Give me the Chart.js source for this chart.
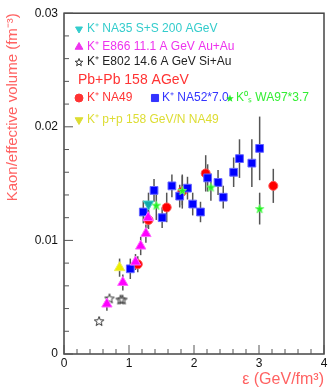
<!DOCTYPE html>
<html>
<head>
<meta charset="utf-8">
<script src="https://cdn.jsdelivr.net/npm/chart.js@4.4.1/dist/chart.umd.min.js"></script>
<style>
html, body { margin: 0; padding: 0; background: #fff; }
canvas { display: block; }
</style>
</head>
<body>
<canvas id="kaonChart" width="331" height="388"></canvas>
<script>
// energy density (GeV/fm^3) vs kaon / effective volume (fm^-3)
const na52E = [1.02, 1.22, 1.385, 1.51, 1.66, 1.78, 1.90, 1.98, 2.10, 2.21, 2.37, 2.45, 2.61, 2.70, 2.89, 3.01];
const na52K = [0.0075, 0.0125, 0.0144, 0.0120, 0.0148, 0.0139, 0.0146, 0.0132, 0.0125, 0.0155, 0.0151, 0.0138, 0.0160, 0.0172, 0.0168, 0.0181];
const na52Err = [0.0009, 0.0010, 0.0010, 0.0009, 0.0010, 0.0010, 0.0010, 0.0010, 0.0009, 0.0012, 0.0011, 0.0010, 0.0013, 0.0017, 0.0021, 0.0028];

const na49E = [1.135, 1.30, 1.58, 1.82, 2.18, 3.22];
const na49K = [0.0079, 0.0118, 0.0129, 0.0143, 0.0159, 0.0148];
const na49Err = [0.0007, 0.0008, 0.0013, 0.0015, 0.0016, 0.0015];

const wa97E = [1.42, 1.82, 2.26, 3.01];
const wa97K = [0.0131, 0.0144, 0.0147, 0.0128];
const wa97Err = [0.0013, 0.0013, 0.0012, 0.0014];

const na35E = [1.30];
const na35K = [0.0132];
const na35Err = [0.0010];

const e866E = [0.66, 0.905, 1.10, 1.18, 1.26, 1.295];
const e866K = [0.0044, 0.0063, 0.0081, 0.0095, 0.0106, 0.0120];
const e866Err = [0.0006, 0.0007, 0.0007, 0.0008, 0.0008, 0.0009];

const e802E = [0.54, 0.70, 0.87, 0.90];
const e802K = [0.0029, 0.0049, 0.0048, 0.0048];

const ppE = [0.855];
const ppK = [0.0076];
const ppErr = [0.0008];

const xTicks = [0, 1, 2, 3, 4];
const yTicks = [0, 0.01, 0.02, 0.03];

const toPoints = (xs, ys) => xs.map((x, i) => ({ x: x, y: ys[i] }));

// little canvas star used as point style
function makeStar(size, fill, stroke) {
    const c = document.createElement('canvas');
    c.width = size; c.height = size;
    const g = c.getContext('2d');
    const cx = size / 2, cy = size / 2 + 0.5;
    const ro = size / 2 - 1, ri = ro * 0.42;
    g.beginPath();
    for (let k = 0; k < 10; k++) {
        const r = k % 2 === 0 ? ro : ri;
        const a = -Math.PI / 2 + k * Math.PI / 5;
        const px = cx + r * Math.cos(a), py = cy + r * Math.sin(a);
        if (k === 0) g.moveTo(px, py); else g.lineTo(px, py);
    }
    g.closePath();
    if (fill) { g.fillStyle = fill; g.fill(); }
    if (stroke) { g.strokeStyle = stroke; g.lineWidth = 1; g.stroke(); }
    return c;
}

const greenStar = makeStar(11, '#22ee22', '#66ff66');
const openStar = makeStar(12, null, '#333');
const legendGreenStar = makeStar(10, '#22ee22', null);
const legendOpenStar = makeStar(10, null, '#333');

const errorBars = {
    id: 'errorBars',
    beforeDatasetsDraw(chart) {
        const ctx = chart.ctx;
        const yScale = chart.scales.y;
        ctx.save();
        ctx.strokeStyle = '#555';
        ctx.lineWidth = 1.5;
        chart.data.datasets.forEach((ds, i) => {
            if (!ds.err) return;
            const meta = chart.getDatasetMeta(i);
            meta.data.forEach((pt, j) => {
                const v = ds.data[j].y;
                ctx.beginPath();
                ctx.moveTo(pt.x, yScale.getPixelForValue(v + ds.err[j]));
                ctx.lineTo(pt.x, yScale.getPixelForValue(v - ds.err[j]));
                ctx.stroke();
            });
        });
        ctx.restore();
    }
};

// frame + inward ticks, ROOT style
const frameTicks = {
    id: 'frameTicks',
    afterDraw(chart) {
        const ctx = chart.ctx;
        const a = chart.chartArea;
        const xs = chart.scales.x, ys = chart.scales.y;
        ctx.save();
        ctx.strokeStyle = '#444';
        ctx.lineWidth = 1.5;
        ctx.strokeRect(a.left, a.top, a.right - a.left, a.bottom - a.top);
        ctx.lineWidth = 1;
        ctx.strokeStyle = '#555';
        for (let k = 0; k <= 20; k++) {
            const px = xs.getPixelForValue(k * 0.2);
            const len = k % 5 === 0 ? 9 : 5;
            ctx.beginPath();
            ctx.moveTo(px, a.bottom);
            ctx.lineTo(px, a.bottom - len);
            ctx.stroke();
        }
        for (let k = 0; k <= 15; k++) {
            const py = ys.getPixelForValue(k * 0.002);
            const len = k % 5 === 0 ? 9 : 5;
            ctx.beginPath();
            ctx.moveTo(a.left, py);
            ctx.lineTo(a.left + len, py);
            ctx.stroke();
        }
        ctx.restore();
    }
};

const legendBox = {
    id: 'legendBox',
    afterDraw(chart) {
        const ctx = chart.ctx;
        const draw = Chart.helpers.drawPoint;
        const small = '12px "Liberation Sans", Arial, sans-serif';
        ctx.save();
        ctx.textBaseline = 'middle';
        ctx.textAlign = 'left';
        ctx.font = small;

        ctx.fillStyle = '#33cccc'; ctx.strokeStyle = '#33cccc';
        draw(ctx, { pointStyle: 'triangle', rotation: 180, radius: 4, borderWidth: 1 }, 79, 29);
        ctx.fillText('K⁺ NA35 S+S 200 AGeV', 87, 29);

        ctx.fillStyle = '#ee33ee'; ctx.strokeStyle = '#ee33ee';
        draw(ctx, { pointStyle: 'triangle', radius: 4.5, borderWidth: 1 }, 79, 47);
        ctx.fillText('K⁺ E866 11.1 A GeV Au+Au', 87, 47);

        ctx.drawImage(legendOpenStar, 74, 57);
        ctx.fillStyle = '#222';
        ctx.fillText('K⁺ E802 14.6 A GeV Si+Au', 87, 62);

        ctx.fillStyle = '#ff3333';
        ctx.font = '14px "Liberation Sans", Arial, sans-serif';
        ctx.fillText('Pb+Pb 158 AGeV', 78, 80);
        ctx.font = small;

        ctx.strokeStyle = '#ff3333';
        draw(ctx, { pointStyle: 'circle', radius: 4, borderWidth: 1 }, 79, 98);
        ctx.fillText('K⁺ NA49', 87, 98);

        ctx.fillStyle = '#3333ff'; ctx.strokeStyle = '#3333ff';
        draw(ctx, { pointStyle: 'rect', radius: 5, borderWidth: 1 }, 155, 98);
        ctx.fillText('K⁺ NA52*7.0', 162, 98);

        ctx.drawImage(legendGreenStar, 225, 93);
        ctx.fillStyle = '#33ee33';
        ctx.fillText('K⁰ₛ WA97*3.7', 236, 98);

        ctx.fillStyle = '#dddd33'; ctx.strokeStyle = '#dddd33';
        draw(ctx, { pointStyle: 'triangle', rotation: 180, radius: 4.5, borderWidth: 1 }, 79, 120);
        ctx.fillText('K⁺ p+p 158 GeV/N NA49', 87, 120);
        ctx.restore();
    }
};

Chart.defaults.font.family = '"Liberation Sans", Arial, sans-serif';
Chart.defaults.color = '#111';

const ctx = document.getElementById('kaonChart').getContext('2d');
new Chart(ctx, {
    type: 'scatter',
    data: {
        datasets: [
            {
                label: 'K+ E866 11.1 A GeV Au+Au',
                data: toPoints(e866E, e866K),
                err: e866Err,
                pointStyle: 'triangle',
                pointRadius: 6,
                backgroundColor: '#ff00ff',
                borderColor: '#ff66ff',
                borderWidth: 1
            },
            {
                label: 'K0s WA97*3.7',
                data: toPoints(wa97E, wa97K),
                err: wa97Err,
                pointStyle: greenStar,
                backgroundColor: '#22ee22',
                borderColor: '#22ee22'
            },
            {
                label: 'K+ NA35 S+S 200 AGeV',
                data: toPoints(na35E, na35K),
                err: na35Err,
                pointStyle: 'triangle',
                rotation: 180,
                pointRadius: 6,
                backgroundColor: '#11aaaa',
                borderColor: '#44cccc',
                borderWidth: 1
            },
            {
                label: 'K+ NA52*7.0',
                data: toPoints(na52E, na52K),
                err: na52Err,
                pointStyle: 'rect',
                pointRadius: 5.5,
                backgroundColor: '#0000ff',
                borderColor: '#6666ff',
                borderWidth: 1
            },
            {
                label: 'K+ NA49',
                data: toPoints(na49E, na49K),
                err: na49Err,
                pointStyle: 'circle',
                pointRadius: 4.5,
                backgroundColor: '#ff0000',
                borderColor: '#ff5555',
                borderWidth: 1
            },
            {
                label: 'K+ p+p 158 GeV/N NA49',
                data: toPoints(ppE, ppK),
                err: ppErr,
                pointStyle: 'triangle',
                pointRadius: 6,
                backgroundColor: '#eeee00',
                borderColor: '#eeee55',
                borderWidth: 1
            },
            {
                label: 'K+ E802 14.6 A GeV Si+Au',
                data: toPoints(e802E, e802K),
                pointStyle: openStar,
                backgroundColor: '#333',
                borderColor: '#333'
            }
        ]
    },
    options: {
        responsive: false,
        animation: false,
        layout: { padding: { top: 12, right: 5, left: 0, bottom: 0 } },
        plugins: {
            legend: { display: false },
            tooltip: { enabled: false }
        },
        scales: {
            x: {
                type: 'linear',
                min: 0,
                max: 4,
                afterFit: (scale) => { scale.height = 34; },
                afterBuildTicks: (scale) => { scale.ticks = xTicks.map(v => ({ value: v })); },
                grid: { display: false, drawTicks: false, tickLength: 0 },
                border: { display: false },
                ticks: {
                    padding: 2,
                    color: '#111',
                    font: { size: 12 },
                    callback: (v) => String(v)
                },
                title: {
                    display: true,
                    text: 'ε (GeV/fm³)',
                    align: 'end',
                    color: '#ff6262',
                    font: { size: 16, lineHeight: 1 },
                    padding: 0
                }
            },
            y: {
                type: 'linear',
                min: 0,
                max: 0.03,
                afterFit: (scale) => { scale.width = 64; },
                afterBuildTicks: (scale) => { scale.ticks = yTicks.map(v => ({ value: v })); },
                grid: { display: false, drawTicks: false, tickLength: 0 },
                border: { display: false },
                ticks: {
                    padding: 6,
                    color: '#111',
                    font: { size: 12 },
                    callback: (v) => v === 0 ? '0' : v.toFixed(2)
                },
                title: {
                    display: true,
                    text: 'Kaon/effective volume (fm⁻³)',
                    align: 'end',
                    color: '#ff6262',
                    font: { size: 15 },
                    padding: { top: 4, bottom: 0 }
                }
            }
        }
    },
    plugins: [errorBars, frameTicks, legendBox]
});
</script>
</body>
</html>
